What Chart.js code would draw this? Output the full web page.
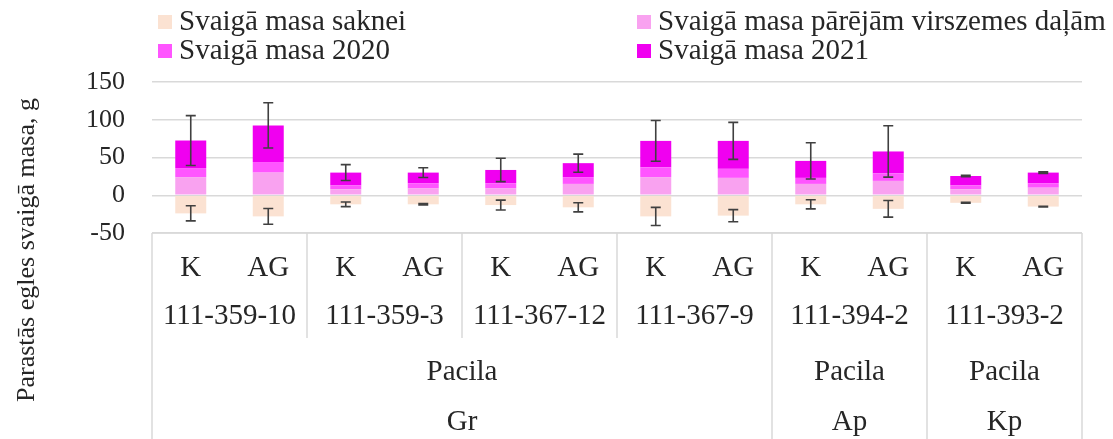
<!DOCTYPE html>
<html>
<head>
<meta charset="utf-8">
<script src="https://cdn.jsdelivr.net/npm/chart.js@4.4.1/dist/chart.umd.min.js"></script>
<style>
  html, body { margin: 0; padding: 0; background: #fff; }
  #wrap { width: 1113px; height: 439px; }
</style>
</head>
<body>
<div id="wrap"><canvas id="myChart" width="1113" height="439"></canvas></div>
<script>
// category levels (bottom axis table)
var treatments = ['K', 'AG', 'K', 'AG', 'K', 'AG', 'K', 'AG', 'K', 'AG', 'K', 'AG'];
var clones = ['111-359-10', '111-359-3', '111-367-12', '111-367-9', '111-394-2', '111-393-2'];
var sites = ['Pacila', 'Pacila', 'Pacila'];
var regions = ['Gr', 'Ap', 'Kp'];
var regionClones = [4, 1, 1]; // how many clones in each region

// fresh mass, g
var rootMass = [-24, -28, -12, -12, -13, -16, -28, -27, -12, -18, -10, -15];
var rootErr = [10, 10.5, 3, 1, 6.5, 6, 12, 8, 6, 11, 0.5, 0.5];
var otherMass = [24, 30, 8, 9, 9, 15, 24, 23, 15, 19, 8, 10];
var mass2020 = [12, 14, 5, 7, 7, 9, 13, 12, 8, 10, 5, 6];
var mass2021 = [36.5, 48.5, 17, 14, 17.5, 18.5, 35, 37, 22.5, 29, 12.5, 14];
var topErr = [33, 30, 10.5, 6.5, 15.5, 12, 27, 24.5, 24, 34, 1, 1];

var yTicks = [-50, 0, 50, 100, 150];

var FONT = "'Liberation Serif', 'Times New Roman', serif";
var TXT = '#262626';
var LINE = '#d9d9d9';

var labels = treatments.map(function (t, i) { return t + ' ' + clones[Math.floor(i / 2)]; });

// error bars: root on the negative bar, total on top of the stack
var errorBars = {
    id: 'errorBars',
    afterDatasetsDraw: function (chart) {
        var ctx = chart.ctx, x = chart.scales.x, y = chart.scales.y;
        ctx.save();
        ctx.strokeStyle = '#404040';
        ctx.lineWidth = 1.6;
        for (var i = 0; i < labels.length; i++) {
            var cx = x.getPixelForValue(i);
            var total = otherMass[i] + mass2020[i] + mass2021[i];
            [[total, topErr[i]], [rootMass[i], rootErr[i]]].forEach(function (e) {
                var y1 = y.getPixelForValue(e[0] + e[1]);
                var y2 = y.getPixelForValue(e[0] - e[1]);
                ctx.beginPath();
                ctx.moveTo(cx, y1); ctx.lineTo(cx, y2);
                ctx.moveTo(cx - 5, y1); ctx.lineTo(cx + 5, y1);
                ctx.moveTo(cx - 5, y2); ctx.lineTo(cx + 5, y2);
                ctx.stroke();
            });
        }
        ctx.restore();
    }
};

// multi level category table under the plot
var categoryTable = {
    id: 'categoryTable',
    afterDraw: function (chart) {
        var ctx = chart.ctx, x = chart.scales.x, area = chart.chartArea;
        var top = area.bottom, bottom = chart.height + 5;
        var step = (area.right - area.left) / labels.length;
        ctx.save();
        ctx.strokeStyle = LINE;
        ctx.lineWidth = 1.5;
        ctx.beginPath();
        ctx.moveTo(area.left, top); ctx.lineTo(area.right, top);
        ctx.moveTo(area.left, top); ctx.lineTo(area.left, bottom);
        ctx.moveTo(area.right, top); ctx.lineTo(area.right, bottom);
        // clone separators (short)
        for (var c = 1; c < clones.length; c++) {
            var bx = area.left + c * 2 * step;
            ctx.moveTo(bx, top); ctx.lineTo(bx, top + 105);
        }
        // region separators (full)
        var n = 0;
        for (var r = 0; r < regions.length - 1; r++) {
            n += regionClones[r] * 2;
            var rx = area.left + n * step;
            ctx.moveTo(rx, top + 105); ctx.lineTo(rx, bottom);
        }
        ctx.stroke();

        ctx.fillStyle = TXT;
        ctx.font = '29px ' + FONT;
        ctx.textAlign = 'center';
        ctx.textBaseline = 'middle';
        treatments.forEach(function (t, i) {
            ctx.fillText(t, x.getPixelForValue(i), top + 35);
        });
        clones.forEach(function (c, k) {
            ctx.fillText(c, area.left + (k * 2 + 1) * step, top + 83);
        });
        var start = 0;
        regions.forEach(function (g, r) {
            var w = regionClones[r] * 2;
            var mid = area.left + (start + w / 2) * step;
            ctx.fillText(sites[r], mid, top + 139);
            ctx.fillText(g, mid, top + 189);
            start += w;
        });

        // y axis title
        ctx.save();
        ctx.translate(27, 250);
        ctx.rotate(-Math.PI / 2);
        ctx.font = '26px ' + FONT;
        ctx.fillText('Parastās egles svaigā masa, g', 0, 0);
        ctx.restore();

        // legend in two columns
        var ds = chart.data.datasets;
        var pos = [[158, 22], [637, 22], [158, 51], [637, 51]];
        ctx.font = '29px ' + FONT;
        ctx.textAlign = 'left';
        ds.forEach(function (d, k) {
            ctx.fillStyle = d.backgroundColor;
            ctx.fillRect(pos[k][0], pos[k][1] - 7, 14, 14);
            ctx.fillStyle = TXT;
            ctx.fillText(d.label, pos[k][0] + 21, pos[k][1]);
        });
        ctx.restore();
    }
};

var ctx = document.getElementById('myChart').getContext('2d');
var chart = new Chart(ctx, {
    type: 'bar',
    data: {
        labels: labels,
        datasets: [
            { label: 'Svaigā masa saknei', data: rootMass, backgroundColor: '#fbe2d2' },
            { label: 'Svaigā masa pārējām virszemes daļām', data: otherMass, backgroundColor: '#f9a2f0' },
            { label: 'Svaigā masa 2020', data: mass2020, backgroundColor: '#ff55ff' },
            { label: 'Svaigā masa 2021', data: mass2021, backgroundColor: '#f000f0' }
        ]
    },
    options: {
        responsive: false,
        animation: false,
        events: [],
        layout: { padding: { top: 82, bottom: 206, left: 0, right: 31 } },
        datasets: { bar: { categoryPercentage: 1, barPercentage: 0.4 } },
        plugins: { legend: { display: false }, tooltip: { enabled: false } },
        scales: {
            x: {
                stacked: true,
                ticks: { display: false },
                grid: { display: false },
                border: { display: false },
                afterFit: function (s) { s.height = 0; }
            },
            y: {
                stacked: true,
                min: -50, max: 150,
                afterBuildTicks: function (s) { s.ticks = yTicks.map(function (v) { return { value: v }; }); },
                ticks: { color: TXT, font: { family: FONT, size: 26 }, padding: 27 },
                grid: { color: LINE, lineWidth: 1.5, drawTicks: false },
                border: { display: false },
                afterFit: function (s) { s.width = 152; }
            }
        }
    },
    plugins: [errorBars, categoryTable]
});
</script>
</body>
</html>
